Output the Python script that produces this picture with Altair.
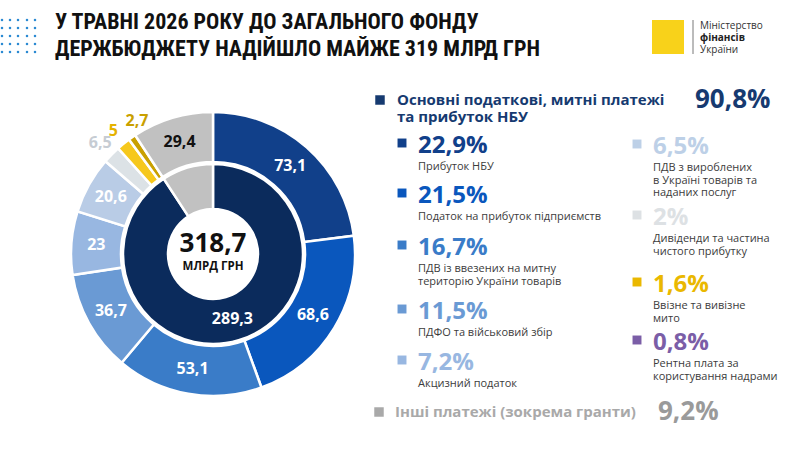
import altair as alt
import pandas as pd

# Надходження до загального фонду держбюджету, травень 2026, млрд грн
categories = [
    "Прибуток НБУ",
    "Податок на прибуток підприємств",
    "ПДВ із ввезених на митну територію України товарів",
    "ПДФО та військовий збір",
    "Акцизний податок",
    "ПДВ з вироблених в Україні товарів та наданих послуг",
    "Дивіденди та частина чистого прибутку",
    "Ввізне та вивізне мито",
    "Рентна плата за користування надрами",
    "Інші платежі (зокрема гранти)",
]
values = [73.1, 68.6, 53.1, 36.7, 23, 20.6, 6.5, 5, 2.7, 29.4]
descriptions = [
    "Прибуток НБУ",
    "Податок на прибуток підприємств",
    "ПДВ із ввезених на митну\nтериторію України товарів",
    "ПДФО та військовий збір",
    "Акцизний податок",
    "ПДВ з вироблених\nв Україні товарів та\nнаданих послуг",
    "Дивіденди та частина\nчистого прибутку",
    "Ввізне та вивізне\nмито",
    "Рентна плата за\nкористування надрами",
]
group_names = ["Основні податкові, митні платежі\nта прибуток НБУ", "Інші платежі (зокрема гранти)"]

arc_colors = ["#11408a", "#0a57bd", "#3a7cc8", "#6a9ad4", "#98b7e1", "#b9cce6",
              "#dce2e6", "#f6c81c", "#c9a000", "#c1c1c1"]
legend_colors = ["#11408a", "#0a57bd", "#3a7cc8", "#6a9ad4", "#98b7e1", "#bdd0e7",
                 "#dde1e4", "#eab800", "#7b5ea7"]
value_label_colors = ["white"] * 6 + ["#c6ccd3", "#e5b200", "#c9a000", "#111111"]
inner_colors = ["#0b2b5c", "#c1c1c1"]

FONT = "Open Sans"
TITLE_FONT = "Roboto Condensed, Liberation Sans Narrow, DejaVu Sans Condensed, Roboto"
CX, CY = 213, 254


def fmt(v):
    return f"{v:g}".replace(".", ",")


total = round(sum(values), 1)
main_total = round(sum(values[:9]), 1)
other_total = values[9]

outer = pd.DataFrame({
    "category": categories,
    "value": values,
    "idx": list(range(len(values))),
    "color": arc_colors,
    "label_color": value_label_colors,
})
outer["label"] = [fmt(v) for v in values]
# labels drawn inside the ring, outside it, and one nudged outside label
outer["lab_in"] = [l if i < 6 or i == 9 else "" for i, l in enumerate(outer["label"])]
outer["lab_out"] = [l if i in (6, 7) else "" for i, l in enumerate(outer["label"])]
outer["lab_out2"] = [l if i == 8 else "" for i, l in enumerate(outer["label"])]

inner = pd.DataFrame({
    "group": group_names,
    "value": [main_total, other_total],
    "idx": [0, 1],
    "color": inner_colors,
    "label": [fmt(main_total), ""],
})

theta = alt.Theta("value:Q", stack=True)
order = alt.Order("idx:Q")
cx, cy = alt.value(CX), alt.value(CY)

outer_arc = alt.Chart(outer).mark_arc(radius=142, radius2=92, stroke="white", strokeWidth=2.5).encode(
    theta=theta, order=order, color=alt.Color("color:N", scale=None), x=cx, y=cy)
inner_arc = alt.Chart(inner).mark_arc(radius=90, radius2=45, stroke="white", strokeWidth=2.5).encode(
    theta=theta, order=order, color=alt.Color("color:N", scale=None), x=cx, y=cy)


def ring_text(df, field, radius, dx=0, dy=0, size=16):
    return alt.Chart(df).mark_text(radius=radius, font=FONT, fontWeight="bold", fontSize=size,
                                   dx=dx, dy=dy).encode(
        theta=theta, order=order, text=f"{field}:N",
        color=alt.Color("label_color:N", scale=None) if "label_color" in df else alt.value("white"),
        x=cx, y=cy)


lab_in = ring_text(outer, "lab_in", 117)
lab_out = ring_text(outer, "lab_out", 158)
lab_out2 = ring_text(outer, "lab_out2", 158, dx=14, dy=-3)
lab_inner = ring_text(inner, "label", 68)

center = pd.DataFrame({"t": [fmt(total), "МЛРД ГРН"], "y": [CY - 10, CY + 13], "s": [26, 11.5]})
center_text = alt.Chart(center).mark_text(font=FONT, fontWeight="bold", color="#111111").encode(
    x=alt.value(CX), y=alt.Y("y:Q", scale=None), text="t:N", size=alt.Size("s:Q", scale=None))

# ---- legend block
pct = [fmt(round(v / total * 100, 1)) + "%" for v in values[:9]]
left_y = [146, 196, 248, 312, 363]
right_y = [147, 218, 285, 343]
leg = pd.DataFrame({
    "pct": pct,
    "desc": descriptions,
    "color": legend_colors,
    "x": [418] * 5 + [653] * 4,
    "y": left_y + right_y,
})
leg["sx"] = leg["x"] - 16
leg["sy"] = leg["y"] - 3

# one row per description line
desc_rows = []
for _, r in leg.iterrows():
    for k, line in enumerate(r["desc"].split("\n")):
        desc_rows.append({"t": line, "x": r["x"], "y": r["y"] + 21 + k * 12.5})
desc_df = pd.DataFrame(desc_rows)

sq = alt.Chart(leg).mark_square(size=80, opacity=1).encode(
    x=alt.X("sx:Q", scale=None), y=alt.Y("sy:Q", scale=None), color=alt.Color("color:N", scale=None))
pct_text = alt.Chart(leg).mark_text(align="left", baseline="middle", font=FONT, fontWeight="bold",
                                    fontSize=24).encode(
    x=alt.X("x:Q", scale=None), y=alt.Y("y:Q", scale=None), text="pct:N",
    color=alt.Color("color:N", scale=None))
desc_text = alt.Chart(desc_df).mark_text(align="left", baseline="middle", font=FONT, fontSize=11,
                                         color="#3c3c3c").encode(
    x=alt.X("x:Q", scale=None), y=alt.Y("y:Q", scale=None), text="t:N")

groups = pd.DataFrame({
    "name": group_names,
    "share": [fmt(round(main_total / total * 100, 1)) + "%", fmt(round(other_total / total * 100, 1)) + "%"],
    "color": ["#163a70", "#a9a9a9"],
    "share_color": ["#163a70", "#9a9a9a"],
    "y": [100, 412],
    "sx": [380, 379],
    "tx": [397, 395],
    "px": [695, 658],
})
grp_rows = []
for _, r in groups.iterrows():
    for k, line in enumerate(r["name"].split("\n")):
        grp_rows.append({"t": line, "x": r["tx"], "y": r["y"] + k * 17, "color": r["color"]})
grp_df = pd.DataFrame(grp_rows)

grp_sq = alt.Chart(groups).mark_square(size=90, opacity=1).encode(
    x=alt.X("sx:Q", scale=None), y=alt.Y("y:Q", scale=None), color=alt.Color("color:N", scale=None))
grp_name = alt.Chart(grp_df).mark_text(align="left", baseline="middle", font=FONT, fontWeight="bold",
                                       fontSize=15).encode(
    x=alt.X("x:Q", scale=None), y=alt.Y("y:Q", scale=None), text="t:N",
    color=alt.Color("color:N", scale=None))
grp_share = alt.Chart(groups).mark_text(align="left", baseline="middle", font=FONT, fontWeight="bold",
                                        fontSize=26).encode(
    x=alt.X("px:Q", scale=None), y=alt.Y("y:Q", scale=None), text="share:N",
    color=alt.Color("share_color:N", scale=None))

# ---- header
title = alt.Chart(pd.DataFrame({"t": ["У ТРАВНІ 2026 РОКУ ДО ЗАГАЛЬНОГО ФОНДУ",
                                       "ДЕРЖБЮДЖЕТУ НАДІЙШЛО МАЙЖЕ 319 МЛРД ГРН"],
                                 "y": [22, 49]})).mark_text(
    align="left", baseline="middle", font=TITLE_FONT, fontWeight="bold", fontSize=22, color="#111111").encode(
    x=alt.value(55), y=alt.Y("y:Q", scale=None), text="t:N")

dot_x = [2, 10, 18, 27, 35]
dot_y = [20, 28, 36, 44, 52]
dots = pd.DataFrame([(x, y) for x in dot_x for y in dot_y], columns=["x", "y"])
dot_marks = alt.Chart(dots).mark_square(size=5, color="#2b8ad2", opacity=1).encode(
    x=alt.X("x:Q", scale=None), y=alt.Y("y:Q", scale=None))

logo_box = alt.Chart(pd.DataFrame({"a": [0]})).mark_rect(color="#f8d21a").encode(
    x=alt.value(652), x2=alt.value(684), y=alt.value(20), y2=alt.value(54))
logo_rule = alt.Chart(pd.DataFrame({"a": [0]})).mark_rule(color="#555555", strokeWidth=0.8).encode(
    x=alt.value(693), y=alt.value(20), y2=alt.value(54))
logo_lines = pd.DataFrame({"t": ["Міністерство", "фінансів", "України"], "y": [26, 38, 50],
                           "w": ["normal", "bold", "normal"]})
logo_txt = alt.Chart(logo_lines[logo_lines.w == "normal"]).mark_text(
    align="left", baseline="middle", font=FONT, fontSize=10, color="#333333").encode(
    x=alt.value(700), y=alt.Y("y:Q", scale=None), text="t:N")
logo_bold = alt.Chart(logo_lines[logo_lines.w == "bold"]).mark_text(
    align="left", baseline="middle", font=FONT, fontSize=10, fontWeight="bold", color="#222222").encode(
    x=alt.value(700), y=alt.Y("y:Q", scale=None), text="t:N")

chart = alt.layer(
    outer_arc, inner_arc, lab_in, lab_out, lab_out2, lab_inner, center_text,
    sq, pct_text, desc_text, grp_sq, grp_name, grp_share,
    title, dot_marks, logo_box, logo_rule, logo_txt, logo_bold,
).properties(width=800, height=450, padding=0, autosize="none", background="white").configure_view(stroke=None)

chart.save("out.html", embed_options={"renderer": "svg", "actions": False})
